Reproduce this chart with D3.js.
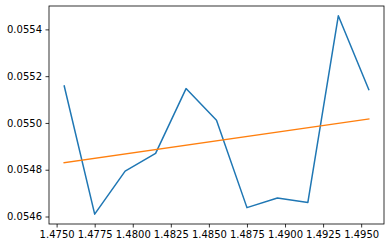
<!DOCTYPE html>
<html><head><meta charset="utf-8">
<script src="https://cdn.jsdelivr.net/npm/d3@7"></script>
<style>body{margin:0;background:#fff}svg{display:block}text{font-family:"DejaVu Sans",sans-serif;font-size:10px;fill:#000}</style>
</head><body>
<script>
const xValues = [1.4755,1.4775,1.4795,1.4815,1.4835,1.4855,1.4875,1.4895,1.4915,1.4935,1.4955];
const seriesA = [0.055158,0.054610,0.054794,0.054870,0.055147,0.055012,0.054638,0.054679,0.054660,0.055458,0.055143];
const trendX = [1.4755,1.4955];
const trendY = [0.054830,0.055017];
const xTicks = [1.4750,1.4775,1.4800,1.4825,1.4850,1.4875,1.4900,1.4925,1.4950];
const yTicks = [0.0546,0.0548,0.0550,0.0552,0.0554];

const W=391,H=248, L=49, R=384, T=6, B=224;
const svg=d3.select("body").append("svg").attr("width",W).attr("height",H);
const x=d3.scaleLinear().domain([1.4745,1.4965]).range([L,R]);
const y=d3.scaleLinear().domain([0.054568,0.0555]).range([B,T]);

const xa=svg.append("g").attr("transform",`translate(0,${B})`)
  .call(d3.axisBottom(x).tickValues(xTicks).tickFormat(d3.format(".4f")).tickSize(3.5).tickPadding(3.5));
const ya=svg.append("g").attr("transform",`translate(${L},0)`)
  .call(d3.axisLeft(y).tickValues(yTicks).tickFormat(d3.format(".4f")).tickSize(3.5).tickPadding(3.5));
[xa,ya].forEach(a=>{a.select(".domain").remove();a.selectAll("line").attr("stroke","#000").attr("stroke-width",0.8);
  a.selectAll("text").attr("font-family","DejaVu Sans").attr("font-size",10).attr("fill","#000");});

const line=d3.line().x(d=>x(d[0])).y(d=>y(d[1]));
svg.append("path").datum(xValues.map((v,i)=>[v,seriesA[i]])).attr("d",line)
  .attr("fill","none").attr("stroke","#1f77b4").attr("stroke-width",1.5).attr("stroke-linejoin","round").attr("stroke-linecap","square");
svg.append("path").datum(trendX.map((v,i)=>[v,trendY[i]])).attr("d",line)
  .attr("fill","none").attr("stroke","#ff7f0e").attr("stroke-width",1.5).attr("stroke-linecap","square");
svg.append("rect").attr("x",L).attr("y",T).attr("width",R-L).attr("height",B-T)
  .attr("fill","none").attr("stroke","#000").attr("stroke-width",0.8);
</script>
</body></html>
